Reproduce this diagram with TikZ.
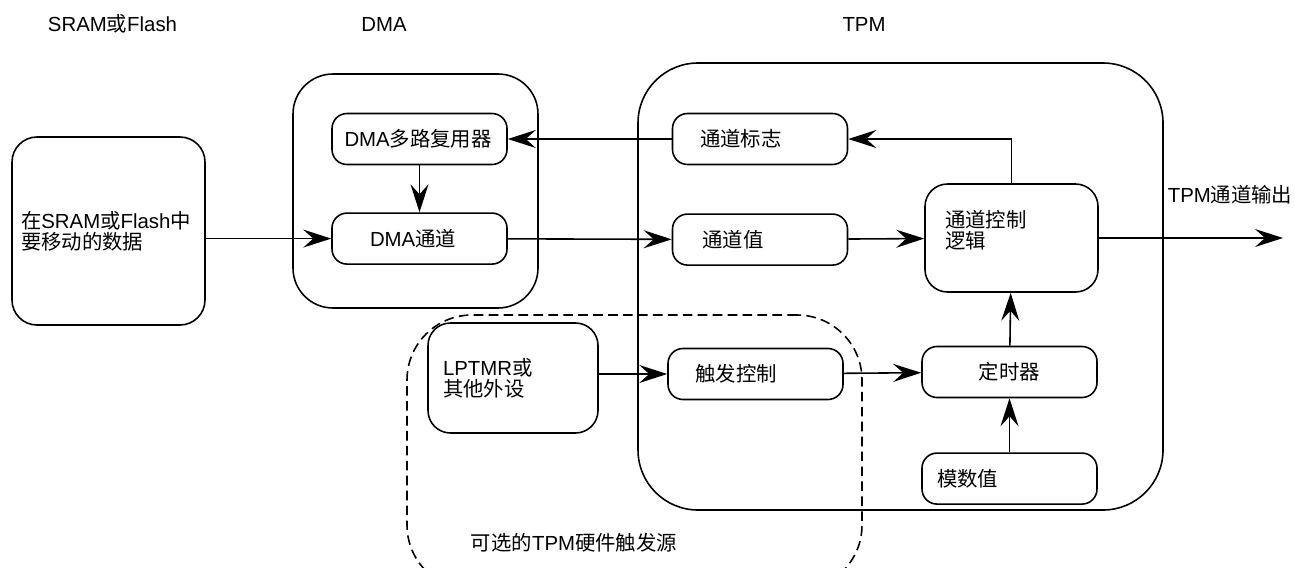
\documentclass[tikz,border=0pt]{standalone}
\usepackage{fontspec}
\setmainfont{Liberation Sans}
\newfontfamily\cjk{Noto Sans CJK SC}
\newcommand{\zh}[1]{{\cjk #1}}
\usetikzlibrary{arrows.meta, positioning}

\begin{document}
\begin{tikzpicture}[
  font=\fontsize{11.6}{12}\selectfont,
  line width=0.9pt,
  blk/.style={rectangle, rounded corners=0.3cm, draw=black, align=left,
              text width=2.4cm, inner xsep=0.55cm, minimum height=1.02cm},
  tallblk/.style={blk, rounded corners=0.45cm},
  group/.style={rectangle, draw=black, rounded corners=0.8cm},
  optgroup/.style={group, rounded corners=1.3cm, dash pattern=on 5.5pt off 3pt},
  title/.style={inner sep=0pt, anchor=base},
  arrow/.style={-{Stealth[length=0.56cm, width=0.36cm, inset=0.2cm]}}
]
\useasboundingbox (0,0) rectangle (25.9,-11.34);
\clip (0,0) rectangle (25.9,-11.34);

% outer groups
\node[group, minimum width=4.9cm, minimum height=4.68cm] (dma) at (8.31,-3.82) {};
\node[group, rounded corners=1.2cm, minimum width=10.5cm, minimum height=8.94cm] (tpm) at (18.01,-5.73) {};
\node[optgroup, minimum width=9.1cm, minimum height=5.5cm] (opt) at (12.69,-9.05) {};

\node[title] (tdata) at (2.25,-0.62) {SRAM\zh{或}Flash};
\node[title] (tdma)  at (7.68,-0.62) {DMA};
\node[title] (ttpm)  at (17.28,-0.62) {TPM};

% blocks
\node[tallblk, rounded corners=0.5cm, text width=3.5cm, inner xsep=0.18cm,
      minimum height=3.76cm] (data) at (2.17,-4.62)
      {\zh{在}SRAM\zh{或}Flash\zh{中}\\\zh{要移动的数据}};
\node[blk, text width=3cm, inner xsep=0.25cm] (mux) at (8.39,-2.78) {DMA\zh{多路复用器}};
\node[blk, below=0.94cm of mux, text width=1.98cm, inner xsep=0.76cm] (dmach) {DMA\zh{通道}};

\node[blk] (flag) at (15.2,-2.78) {\zh{通道标志}};
\node[blk, below=0.96cm of flag, inner xsep=0.6cm, text width=2.3cm] (value) {\zh{通道值}};
\node[tallblk, text width=2.66cm, inner xsep=0.4cm, minimum height=2.16cm,
      text depth=0.75cm] (logic) at (20.23,-4.76) {\zh{通道控制}\\\zh{逻辑}};
\node[blk, align=center] (timer) at (20.19,-7.44) {\zh{定时器}};
\node[blk, below=1.08cm of timer, text width=2.9cm, inner xsep=0.3cm] (modulo) {\zh{模数值}};

\node[tallblk, text width=2.8cm, inner xsep=0.3cm, minimum height=2.2cm] (lptmr) at (10.26,-7.56)
      {LPTMR\zh{或}\\\zh{其他外设}};
\node[blk] (trigger) at (15.11,-7.48) {\zh{触发控制}};

\node[title] (optlabel) at (11.48,-11.0) {\zh{可选的}TPM\zh{硬件触发源}};
\coordinate (out) at (25.66,-4.76);
\node[title, anchor=base west] (outlabel) at (23.34,-4.04) {TPM\zh{通道输出}};

% connections
\draw[arrow] (data.east |- dmach) -- (dmach);
\draw[arrow] (mux) -- (dmach);
\draw[arrow] (dmach) -- (value);
\draw[arrow] (value) -- (logic);
\draw[arrow] (logic) -- (out);
\draw[arrow] (logic.north) |- (flag.east);
\draw[arrow] (flag) -- (mux);
\draw[arrow] (lptmr.east |- trigger) -- (trigger);
\draw[arrow] (trigger) -- (timer);
\draw[arrow] (timer) -- (logic);
\draw[arrow] (modulo) -- (timer);
\end{tikzpicture}
\end{document}
